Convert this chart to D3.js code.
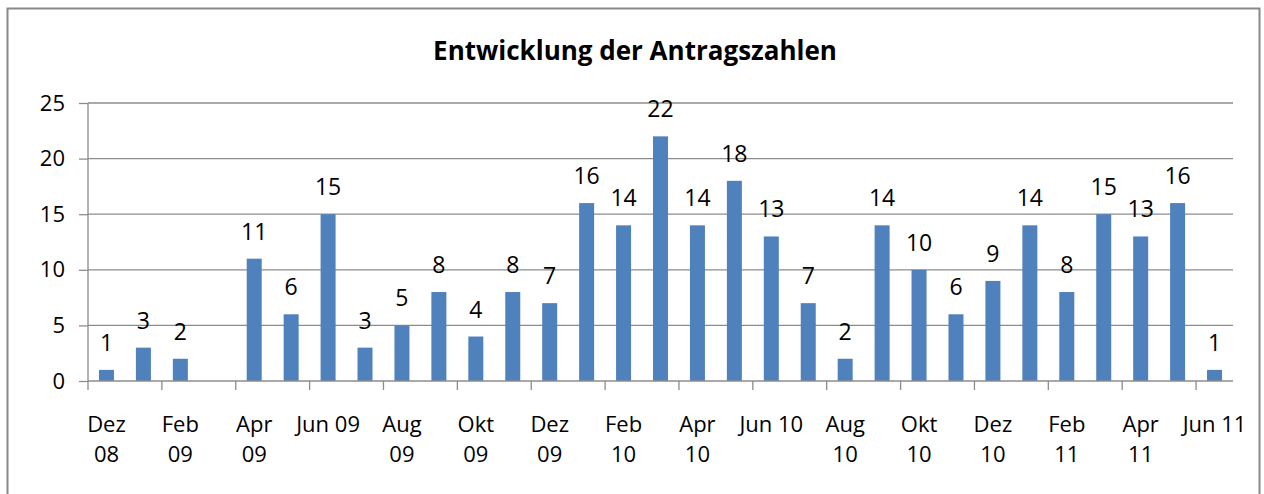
<!DOCTYPE html>
<html>
<head>
<meta charset="utf-8">
<script src="https://cdn.jsdelivr.net/npm/d3@7"></script>
<style>
  body { margin: 0; background: #fff; }
  text { font-family: "Open Sans", sans-serif; fill: #000; }
</style>
</head>
<body>
<svg id="chart" width="1264" height="494"></svg>
<script>
// months (Dez 08 .. Jun 11) and number of applications
var months = ['Dez 08', 'Jan 09', 'Feb 09', 'Mär 09', 'Apr 09', 'Mai 09', 'Jun 09', 'Jul 09', 'Aug 09', 'Sep 09', 'Okt 09', 'Nov 09',
  'Dez 09', 'Jan 10', 'Feb 10', 'Mär 10', 'Apr 10', 'Mai 10', 'Jun 10', 'Jul 10', 'Aug 10', 'Sep 10', 'Okt 10', 'Nov 10',
  'Dez 10', 'Jan 11', 'Feb 11', 'Mär 11', 'Apr 11', 'Mai 11', 'Jun 11'];
var values = [1, 3, 2, null, 11, 6, 15, 3, 5, 8, 4, 8,
  7, 16, 14, 22, 14, 18, 13, 7, 2, 14, 10, 6,
  9, 14, 8, 15, 13, 16, 1];
// shown labels (every second month), line break as in the original
var tickLabels = ['Dez\n08', 'Feb\n09', 'Apr\n09', 'Jun 09', 'Aug\n09', 'Okt\n09', 'Dez\n09', 'Feb\n10',
  'Apr\n10', 'Jun 10', 'Aug\n10', 'Okt\n10', 'Dez\n10', 'Feb\n11', 'Apr\n11', 'Jun 11'];
var yTicks = [0, 5, 10, 15, 20, 25];

var title = 'Entwicklung der Antragszahlen';

// layout
var margin = {top: 103, left: 88};
var width = 1145;
var height = 278;

var svg = d3.select('#chart');

// outer chart border
svg.append('rect')
  .attr('x', 7.5)
  .attr('y', 8.5)
  .attr('width', 1252)
  .attr('height', 500)
  .style('fill', 'none')
  .style('stroke', '#888')
  .style('stroke-width', 2);

// title
svg.append('text')
  .attr('x', 635)
  .attr('y', 60)
  .attr('text-anchor', 'middle')
  .style('font-size', '26px')
  .style('font-weight', 'bold')
  .text(title);

var g = svg.append('g')
  .attr('transform', 'translate(' + margin.left + ',' + margin.top + ')');

// scales
var x = d3.scaleBand().domain(months).range([0, width]).paddingInner(0).paddingOuter(0);
var y = d3.scaleLinear().domain([0, 25]).range([height, 0]);
var barWidth = 15;

// gridlines
g.selectAll('line.grid')
  .data(yTicks.filter(function(d) { return d > 0; }))
  .enter()
  .append('line')
  .attr('x1', 0)
  .attr('x2', width)
  .attr('y1', function(d) { return y(d); })
  .attr('y2', function(d) { return y(d); })
  .style('stroke', '#8c8c8c')
  .style('stroke-width', 1.3);

// y axis
var yAxis = g.append('g')
  .call(d3.axisLeft(y).tickValues(yTicks).tickSize(9).tickPadding(14));
yAxis.select('.domain').attr('stroke', '#8c8c8c').attr('stroke-width', 1.3).attr('d', 'M0,' + height + 'V0');
yAxis.selectAll('.tick line').attr('stroke', '#8c8c8c').attr('stroke-width', 1.3);
yAxis.selectAll('.tick text')
  .style('font-size', '22px')
  .style('font-family', '"Open Sans", sans-serif')
  .attr('fill', '#000');

// bars
g.selectAll('rect.bar')
  .data(months.map(function(m, i) { return {month: m, value: values[i]}; })
    .filter(function(d) { return d.value != null; }))
  .enter()
  .append('rect')
  .attr('class', 'bar')
  .attr('x', function(d) { return x(d.month) + x.bandwidth() / 2 - barWidth / 2; })
  .attr('y', function(d) { return y(d.value); })
  .attr('width', barWidth)
  .attr('height', function(d) { return height - y(d.value); })
  .style('fill', '#4f81bd');

// value labels
g.selectAll('text.val')
  .data(months.map(function(m, i) { return {month: m, value: values[i]}; })
    .filter(function(d) { return d.value != null; }))
  .enter()
  .append('text')
  .attr('class', 'val')
  .attr('x', function(d) { return x(d.month) + x.bandwidth() / 2; })
  .attr('y', function(d) { return y(d.value) - 19; })
  .attr('text-anchor', 'middle')
  .style('font-size', '23px')
  .text(function(d) { return d.value; });

// x axis line
g.append('line')
  .attr('x1', 0)
  .attr('x2', width)
  .attr('y1', height)
  .attr('y2', height)
  .style('stroke', '#8c8c8c')
  .style('stroke-width', 1.3);

// x tick marks at category boundaries, every second month
var shown = months.filter(function(d, i) { return i % 2 === 0; });
g.selectAll('line.xtick')
  .data(shown)
  .enter()
  .append('line')
  .attr('x1', function(d) { return x(d); })
  .attr('x2', function(d) { return x(d); })
  .attr('y1', height)
  .attr('y2', height + 9)
  .style('stroke', '#8c8c8c')
  .style('stroke-width', 1.3);

// x labels
var xl = g.selectAll('text.xl')
  .data(shown)
  .enter()
  .append('text')
  .attr('class', 'xl')
  .attr('text-anchor', 'middle')
  .attr('transform', function(d) {
    return 'translate(' + (x(d) + x.bandwidth() / 2) + ',' + (height + 51) + ')';
  })
  .style('font-size', '22px');
xl.each(function(d, i) {
  var lines = tickLabels[i].split('\n');
  var t = d3.select(this);
  lines.forEach(function(l, j) {
    t.append('tspan')
      .attr('x', 0)
      .attr('y', j * 30)
      .text(l);
  });
});
</script>
</body>
</html>
